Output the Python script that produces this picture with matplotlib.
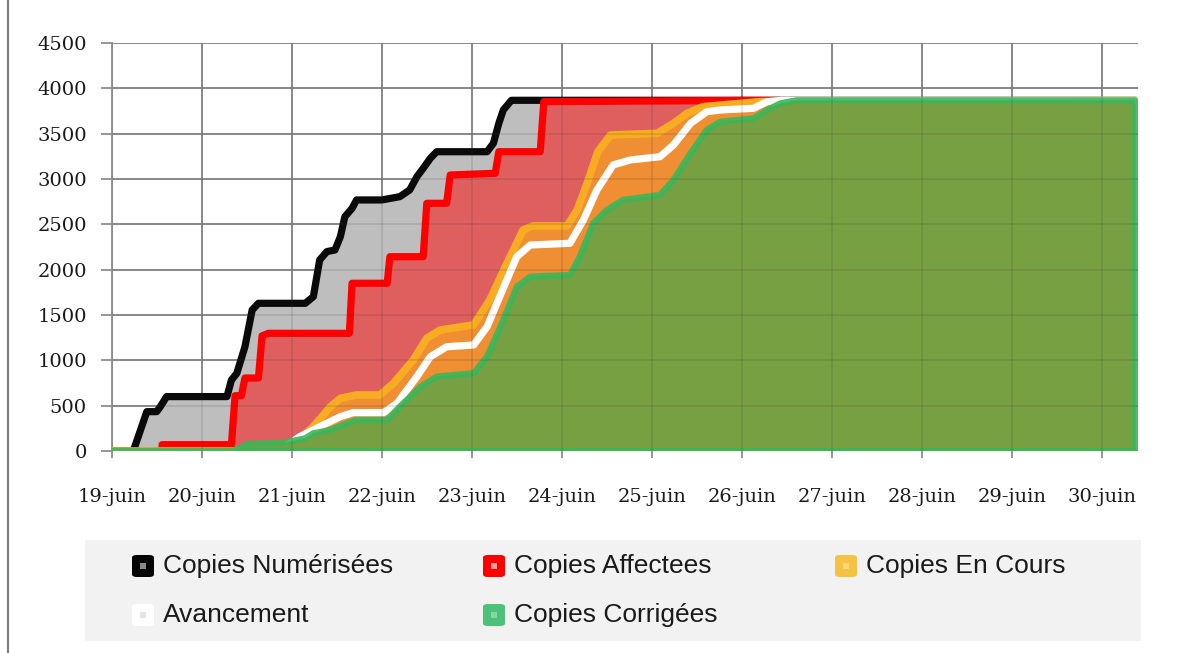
import matplotlib
matplotlib.use('Agg')
import matplotlib.pyplot as plt
from matplotlib.patches import FancyBboxPatch, Rectangle
from matplotlib.lines import Line2D

W, H = 1195, 653

date_labels = ['19-juin', '20-juin', '21-juin', '22-juin', '23-juin', '24-juin',
               '25-juin', '26-juin', '27-juin', '28-juin', '29-juin', '30-juin']
y_ticks = [0, 500, 1000, 1500, 2000, 2500, 3000, 3500, 4000, 4500]

# cumulative counts, x in days since 19 juin 00h
num_days = [0, 0.24, 0.39, 0.50, 0.54, 0.61, 1.28, 1.33, 1.39, 1.48, 1.56, 1.63,
            2.15, 2.24, 2.31, 2.39, 2.48, 2.54, 2.59, 2.67, 2.72, 3.00, 3.20,
            3.31, 3.39, 3.46, 3.54, 3.61, 4.17, 4.24, 4.30, 4.35, 4.44, 11.37]
num_vals = [0, 0, 434, 434, 489, 600, 600, 783, 857, 1150, 1555, 1629,
            1629, 1702, 2107, 2199, 2217, 2364, 2584, 2677, 2769, 2769, 2805,
            2879, 3025, 3118, 3229, 3301, 3301, 3394, 3614, 3761, 3868, 3868]

aff_days = [0.56, 0.56, 1.33, 1.37, 1.44, 1.48, 1.63, 1.67, 1.74, 2.64, 2.67,
            3.06, 3.09, 3.46, 3.50, 3.72, 3.76, 4.26, 4.30, 4.76, 4.80, 7.00, 11.37]
aff_vals = [0, 70, 70, 610, 610, 805, 805, 1270, 1298, 1298, 1850,
            1850, 2143, 2143, 2732, 2732, 3044, 3063, 3301, 3301, 3853, 3866, 3866]

cours_days = [0, 1.80, 1.95, 2.10, 2.24, 2.43, 2.54, 2.72, 2.98, 3.13, 3.35, 3.50,
              3.65, 4.02, 4.20, 4.39, 4.57, 4.68, 5.06, 5.17, 5.28, 5.40, 5.54,
              6.06, 6.24, 6.39, 6.57, 7.20, 11.37]
cours_vals = [0, 0, 60, 140, 268, 489, 581, 618, 618, 747, 1004, 1243,
              1335, 1390, 1666, 2070, 2438, 2482, 2482, 2658, 2950, 3300, 3485,
              3504, 3614, 3724, 3798, 3853, 3868]

avance_days = [1.85, 2.09, 2.31, 2.54, 2.68, 3.02, 3.17, 3.39, 3.54, 3.72, 4.02,
               4.17, 4.31, 4.50, 4.65, 5.09, 5.24, 5.39, 5.57, 5.76, 6.09, 6.24,
               6.43, 6.61, 6.76, 7.13, 7.28, 7.45, 11.37]
avance_vals = [0, 158, 268, 379, 423, 423, 526, 820, 1040, 1150, 1169,
               1371, 1702, 2143, 2272, 2291, 2548, 2879, 3155, 3210, 3246, 3375,
               3614, 3742, 3761, 3780, 3853, 3868, 3868]

corr_days = [0, 1.35, 1.52, 1.90, 2.15, 2.24, 2.43, 2.61, 2.72, 3.06, 3.20, 3.43,
             3.61, 3.80, 4.02, 4.17, 4.35, 4.50, 4.65, 5.09, 5.20, 5.35, 5.50,
             5.68, 6.09, 6.24, 6.43, 6.61, 6.76, 7.13, 7.28, 7.43, 7.61, 11.37]
corr_vals = [0, 0, 80, 90, 140, 195, 232, 305, 342, 342, 489, 709,
             820, 838, 857, 1040, 1445, 1812, 1923, 1941, 2143, 2511, 2658,
             2769, 2824, 2990, 3284, 3541, 3632, 3669, 3761, 3835, 3868, 3868]

names = ['Copies Numérisées', 'Copies Affectees', 'Copies En Cours',
         'Avancement', 'Copies Corrigées']

GRID = '#8c8c8c'

fig = plt.figure(figsize=(W / 100, H / 100), dpi=100)
ax = fig.add_axes([111.7 / W, 1 - 451 / H, (1138 - 111.7) / W, 408 / H])

ax.set_xlim(0, 11.40)
ax.set_ylim(0, 4500)
ax.set_xticks(range(len(date_labels)))
ax.set_xticklabels(date_labels)
ax.set_yticks(y_ticks)
for s in ax.spines.values():
    s.set_visible(False)
ax.spines['left'].set_visible(True)
ax.spines['left'].set_color(GRID)
ax.spines['left'].set_linewidth(1.3)
ax.grid(True, color=GRID, lw=1.3, zorder=0)
ax.set_axisbelow(True)
ax.tick_params(axis='y', length=8, width=1.3, color=GRID, pad=10,
               labelsize=14, labelcolor='#1a1a1a')
ax.tick_params(axis='x', length=5, width=1.3, color=GRID, pad=22,
               labelsize=14, labelcolor='#1a1a1a')
for lab in ax.get_xticklabels() + ax.get_yticklabels():
    lab.set_family('DejaVu Serif')


def area(days, vals, face, edge, lw, z):
    ax.fill(list(days) + [days[-1], days[0]], list(vals) + [0, 0],
            facecolor=face, edgecolor='none', zorder=z)
    ax.plot(days, vals, color=edge, lw=lw, zorder=z + 0.5,
            solid_joinstyle='round', solid_capstyle='round')


area(num_days, num_vals, '#bebebe', '#0a0a0a', 5.2, 1)
area(aff_days, aff_vals, '#df5f5f', '#ff0000', 5.2, 2)
area(cours_days, cours_vals, '#ef8e33', '#f8ac22', 5.5, 3)
ax.plot(avance_days, avance_vals, color='white', lw=5.2, zorder=4.5,
        solid_joinstyle='round', solid_capstyle='round')

# corrected copies: filled polygon with its full outline
cx = list(corr_days) + [corr_days[-1], corr_days[0]]
cy = list(corr_vals) + [0, 0]
ax.fill(cx, cy, facecolor='#77a043', edgecolor='none', zorder=5)
ax.plot(cx, cy, color='#3bb65a', lw=4.5, zorder=5.5, alpha=0.9,
        solid_joinstyle='round', solid_capstyle='round')

# faint grid showing through the filled areas
for v in y_ticks[1:]:
    ax.axhline(v, color='#333333', lw=1.2, alpha=0.15, zorder=6)
for d in range(1, len(date_labels)):
    ax.axvline(d, color='#333333', lw=1.2, alpha=0.15, zorder=6)

# page border on the left
fig.add_artist(Line2D([8 / W, 8 / W], [0, 1], color='#7f7f7f', lw=1.6))

# legend box
fig.add_artist(Rectangle((85 / W, 1 - 641 / H), (1141 - 85) / W, 101 / H,
                         facecolor='#f2f2f2', edgecolor='none'))

legend_items = [
    (names[0], '#050505', '#8a8a8a', 132, 566),
    (names[1], '#ff0000', '#ff9a9a', 483, 566),
    (names[2], '#f6c243', '#f9d77d', 835, 566),
    (names[3], '#ffffff', '#e4e4e4', 132, 615),
    (names[4], '#4cc17a', '#86d6a4', 483, 615),
]
for label, outer, inner, px, py in legend_items:
    sz = 22
    fig.add_artist(FancyBboxPatch(((px) / W, 1 - (py + sz / 2) / H), sz / W, sz / H,
                                  boxstyle='round,pad=0,rounding_size=0.004',
                                  facecolor=outer, edgecolor='none',
                                  transform=fig.transFigure))
    fig.add_artist(Rectangle(((px + 8) / W, 1 - (py + 3) / H), 6 / W, 6 / H,
                             facecolor=inner, edgecolor='none',
                             transform=fig.transFigure))
    fig.text((px + 31) / W, 1 - py / H, label, fontsize=19, color='#1a1a1a',
             va='center', ha='left',
             family=['Liberation Sans Narrow', 'Liberation Sans', 'DejaVu Sans'])

fig.savefig('out.png', dpi=100)
